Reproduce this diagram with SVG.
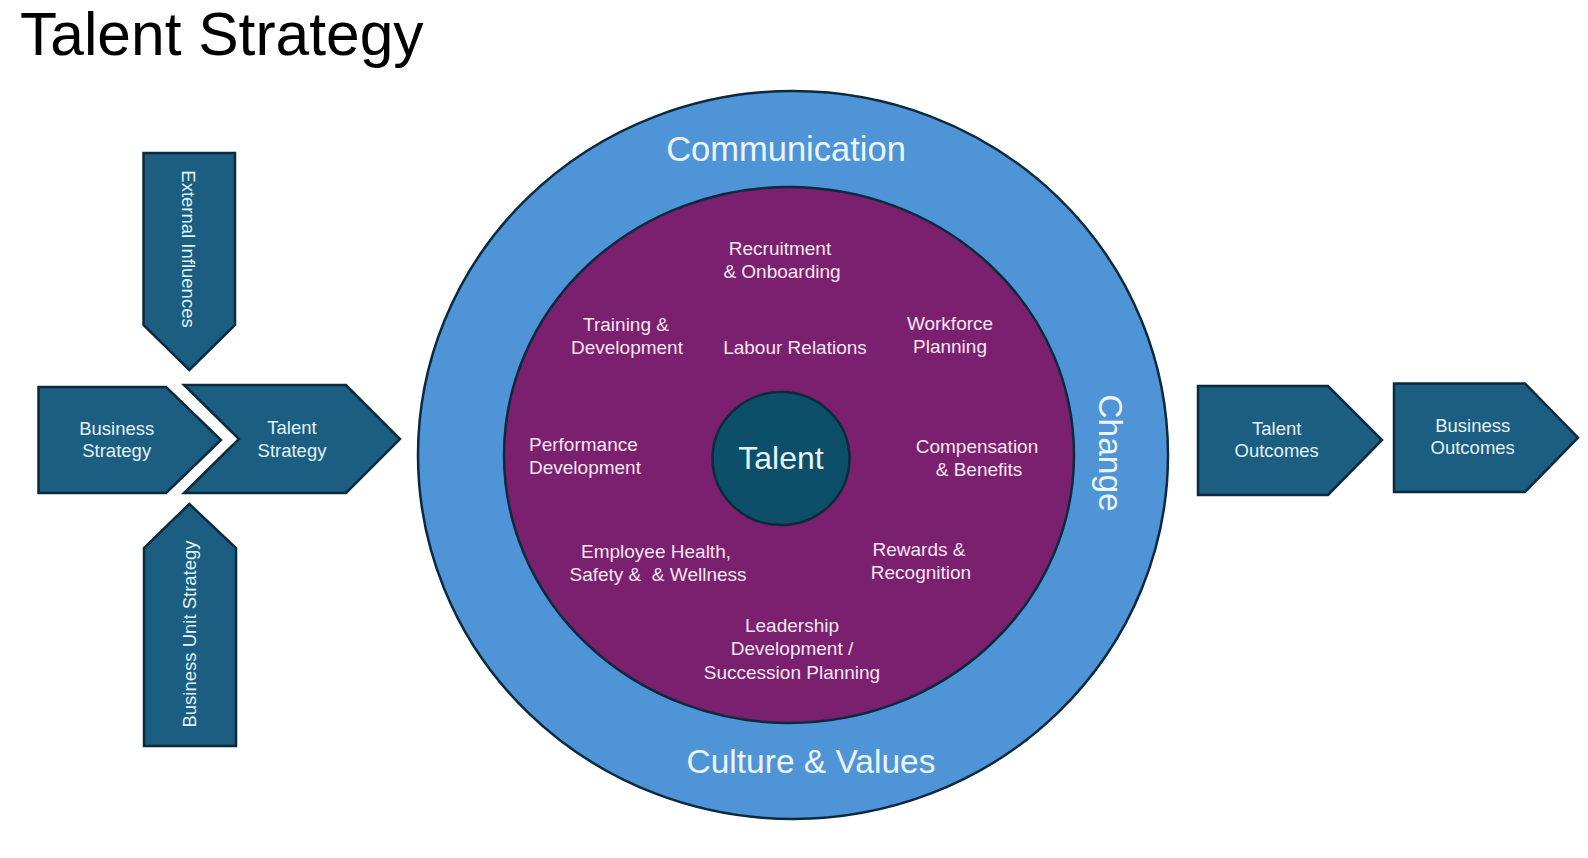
<svg xmlns="http://www.w3.org/2000/svg" width="1588" height="858" viewBox="0 0 1588 858">
  <style>
    .chev { fill: #1B5E82; stroke: #0B2A3E; stroke-width: 2.5; stroke-linejoin: miter; }
    .ctext { font-family: "Liberation Sans", Arial, sans-serif; font-size: 18.5px; fill: #E3F3FA; text-anchor: middle; }
    .itext { font-family: "Liberation Sans", Arial, sans-serif; font-size: 19px; fill: #F7E6F4; text-anchor: middle; }
    .rtext { font-family: "Liberation Sans", Arial, sans-serif; font-size: 33.5px; fill: #EAF5FC; text-anchor: middle; }
    .title { font-family: "Liberation Sans", Arial, sans-serif; font-size: 60.5px; fill: #000000; }
  </style>
  <rect x="0" y="0" width="1588" height="858" fill="#FFFFFF"/>
  <text class="title" x="20" y="55">Talent Strategy</text>

  <g id="connectors"></g>

  <g id="outer-ring">
    <ellipse cx="793" cy="455" rx="375" ry="364" fill="#4F94D7" stroke="#0B2A3E" stroke-width="2.5"/>
    <text class="rtext" x="786" y="161" style="font-size:34.5px">Communication</text>
    <text class="rtext" x="811" y="773">Culture &amp; Values</text>
    <text class="rtext" transform="translate(1099,453) rotate(90)" x="0" y="0">Change</text>
  </g>

  <g id="inner-ring">
    <ellipse cx="789" cy="455" rx="285" ry="268" fill="#7A206E" stroke="#0B2A3E" stroke-width="2.5"/>
  </g>

  <g id="talent-core">
    <ellipse cx="781" cy="458.5" rx="68.5" ry="66.5" fill="#0D4F68" stroke="#0B2A3E" stroke-width="2.5"/>
    <text x="781" y="469" font-family="Liberation Sans, Arial, sans-serif" font-size="32" fill="#E6F4FA" text-anchor="middle">Talent</text>
  </g>

  <g id="recruitment">
    <text class="itext" x="780" y="255">Recruitment</text>
    <text class="itext" x="782" y="278">&amp; Onboarding</text>
  </g>
  <g id="training">
    <text class="itext" x="626" y="331">Training &amp;</text>
    <text class="itext" x="627" y="354">Development</text>
  </g>
  <g id="labour-relations">
    <text class="itext" x="795" y="354">Labour Relations</text>
  </g>
  <g id="workforce-planning">
    <text class="itext" x="950" y="330">Workforce</text>
    <text class="itext" x="950" y="353">Planning</text>
  </g>
  <g id="performance">
    <text class="itext" x="529" y="451" style="text-anchor:start">Performance</text>
    <text class="itext" x="529" y="474" style="text-anchor:start">Development</text>
  </g>
  <g id="compensation">
    <text class="itext" x="977" y="453">Compensation</text>
    <text class="itext" x="979" y="476">&amp; Benefits</text>
  </g>
  <g id="health-safety">
    <text class="itext" x="656" y="558">Employee Health,</text>
    <text class="itext" x="658" y="581" xml:space="preserve">Safety &amp;  &amp; Wellness</text>
  </g>
  <g id="rewards">
    <text class="itext" x="919" y="556">Rewards &amp;</text>
    <text class="itext" x="921" y="579">Recognition</text>
  </g>
  <g id="leadership">
    <text class="itext" x="792" y="632">Leadership</text>
    <text class="itext" x="792" y="655">Development /</text>
    <text class="itext" x="792" y="679">Succession Planning</text>
  </g>

  <g id="external-influences">
    <polygon class="chev" points="143.5,153 235,153 235,325 189.3,370 143.5,325"/>
    <text class="ctext" transform="translate(182,249) rotate(90)" x="0" y="0">External Influences</text>
  </g>
  <g id="business-strategy">
    <polygon class="chev" points="38.5,387 166,387 221,440 166,493 38.5,493"/>
    <text class="ctext" x="116.7" y="435">Business</text>
    <text class="ctext" x="116.7" y="457">Strategy</text>
  </g>
  <g id="talent-strategy">
    <polygon class="chev" points="184,385 346,385 400,439 346,493 184,493 239,439"/>
    <text class="ctext" x="292" y="434">Talent</text>
    <text class="ctext" x="292" y="457">Strategy</text>
  </g>
  <g id="business-unit-strategy">
    <polygon class="chev" points="189.3,504 236,548 236,746 144,746 144,548"/>
    <text class="ctext" transform="translate(195.5,634) rotate(-90)" x="0" y="0">Business Unit Strategy</text>
  </g>
  <g id="talent-outcomes">
    <polygon class="chev" points="1198,386 1328,386 1382,440 1328,495 1198,495"/>
    <text class="ctext" x="1276.7" y="435">Talent</text>
    <text class="ctext" x="1276.7" y="457">Outcomes</text>
  </g>
  <g id="business-outcomes">
    <polygon class="chev" points="1394,383.5 1525,383.5 1578,437.7 1525,492 1394,492"/>
    <text class="ctext" x="1472.7" y="432">Business</text>
    <text class="ctext" x="1472.7" y="454">Outcomes</text>
  </g>
</svg>
